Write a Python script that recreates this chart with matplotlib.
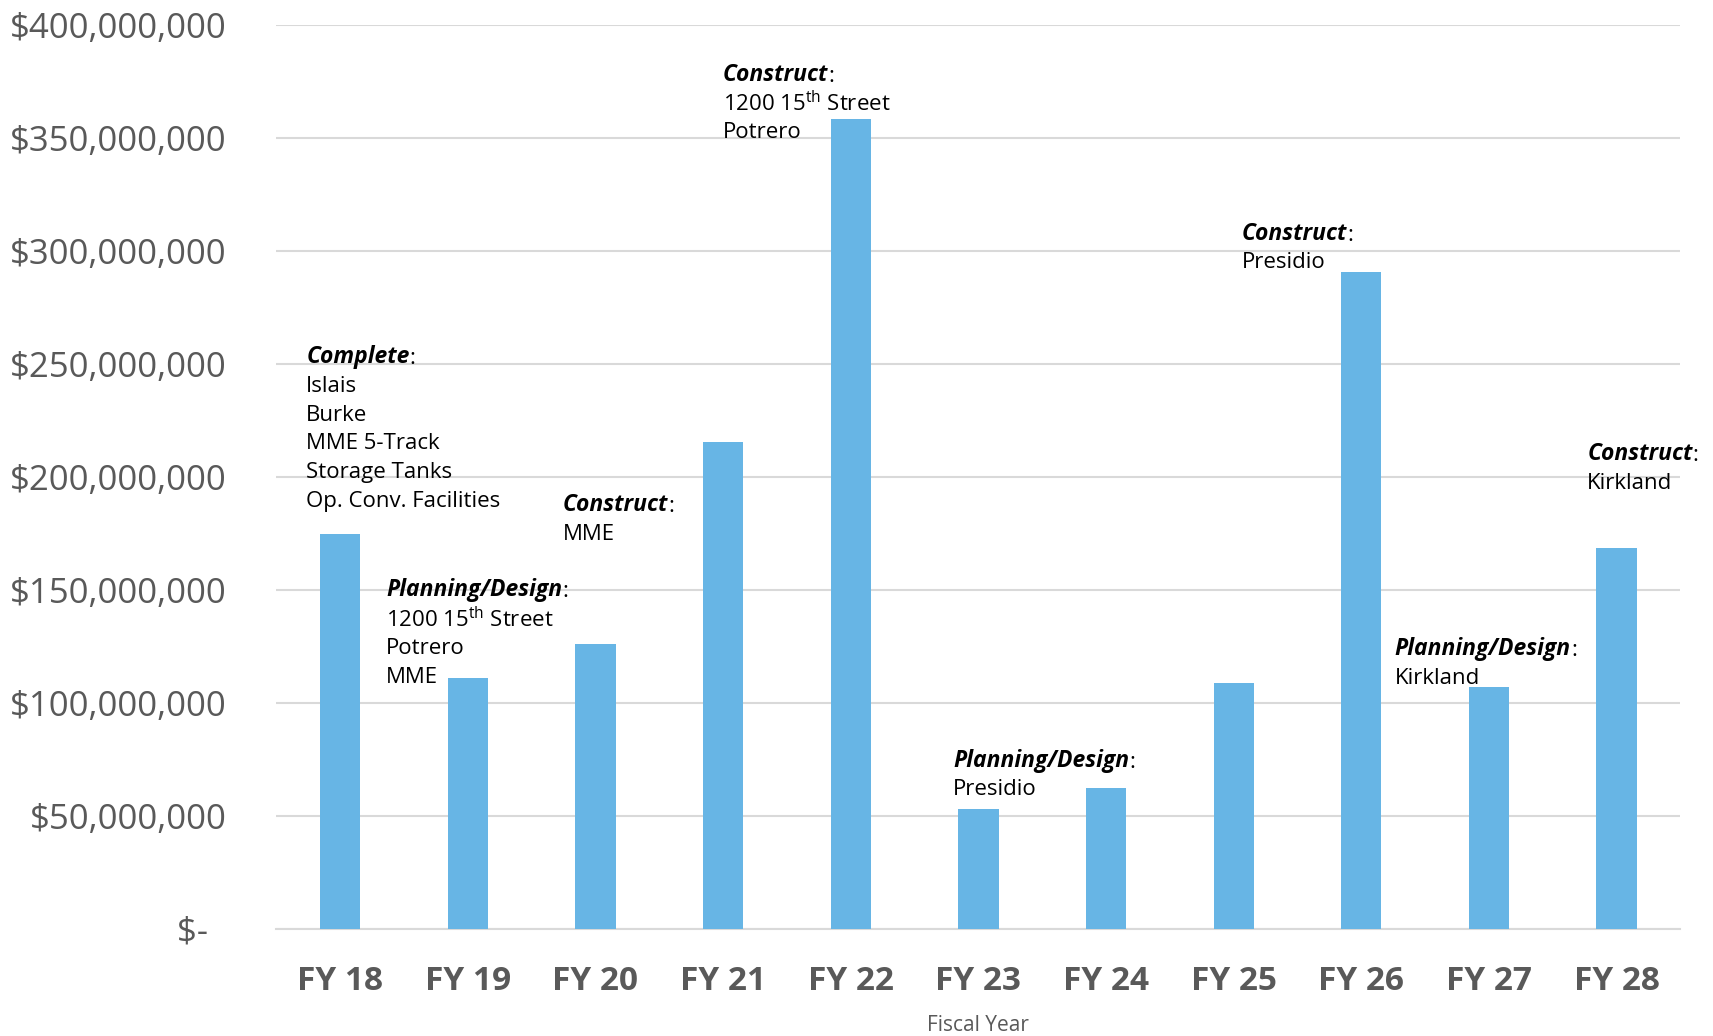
import matplotlib
matplotlib.use("Agg")
import matplotlib.pyplot as plt
from matplotlib.ticker import FuncFormatter, MultipleLocator

plt.rcParams["font.family"] = ["Open Sans", "DejaVu Sans"]
plt.rcParams["mathtext.fontset"] = "custom"
plt.rcParams["mathtext.rm"] = "Open Sans"

years = ["FY 18", "FY 19", "FY 20", "FY 21", "FY 22", "FY 23",
         "FY 24", "FY 25", "FY 26", "FY 27", "FY 28"]
spend = [174.8e6, 111.0e6, 126.0e6, 215.5e6, 358.4e6, 53.1e6,
         62.4e6, 108.8e6, 290.6e6, 107.0e6, 168.6e6]

# (x in category units, y of header, header word, following lines)
notes = [
    (-0.265, 253e6, "Complete",
     ["Islais", "Burke", "MME 5-Track", "Storage Tanks", "Op. Conv. Facilities"]),
    (0.36, 149.8e6, "Planning/Design",
     [r"1200 15$^{\mathrm{th}}$ Street", "Potrero", "MME"]),
    (1.746, 187.4e6, "Construct", ["MME"]),
    (2.996, 377.8e6, "Construct",
     [r"1200 15$^{\mathrm{th}}$ Street", "Potrero"]),
    (4.803, 74.4e6, "Planning/Design", ["Presidio"]),
    (7.063, 307.7e6, "Construct", ["Presidio"]),
    (8.262, 123.7e6, "Planning/Design", ["Kirkland"]),
    (9.769, 210.1e6, "Construct", ["Kirkland"]),
]

BAR = "#67B5E5"
GRID = "#D9D9D9"
TICK = "#595959"


def money(v, _pos):
    if v == 0:
        return "$-  "
    return f"${v:,.0f}"


def main() -> None:
    fig = plt.figure(figsize=(17.13, 10.36), dpi=100)
    ax = fig.add_axes([0.1613, 0.1033, 0.8197, 0.8726])

    x = list(range(len(years)))
    ax.bar(x, spend, width=0.316, color=BAR, zorder=3)

    ax.set_xlim(-0.5, len(years) - 0.5)
    ax.set_ylim(0, 400e6)
    ax.yaxis.set_major_locator(MultipleLocator(50e6))
    ax.yaxis.set_major_formatter(FuncFormatter(money))
    ax.grid(axis="y", color=GRID, linewidth=1.5, zorder=0)
    ax.set_axisbelow(True)
    for side in ("top", "right", "left"):
        ax.spines[side].set_visible(False)
    ax.spines["bottom"].set_color(GRID)
    ax.spines["bottom"].set_linewidth(1.5)

    ax.set_xticks(x)
    ax.set_xticklabels(years, fontsize=24, fontweight="bold", color=TICK)
    ax.tick_params(axis="x", length=0, pad=26)
    ax.tick_params(axis="y", length=0, pad=36, labelsize=25, labelcolor=TICK)
    ax.set_xlabel("Fiscal Year", fontsize=15, color=TICK, labelpad=12)

    line_h = 12.8e6
    for nx, ny, head, lines in notes:
        t = ax.text(nx, ny, head, fontsize=16.5, fontweight="bold", style="italic",
                    ha="left", va="center", color="black", zorder=5)
        ax.annotate(":", xy=(1, 0), xycoords=t, ha="left", va="bottom",
                    fontsize=16, color="black", zorder=5)
        for i, line in enumerate(lines):
            ax.text(nx, ny - line_h * (i + 1), line, fontsize=16,
                    ha="left", va="center", color="black", zorder=5)

    fig.savefig("out.png", dpi=100)
    plt.close(fig)


if __name__ == "__main__":
    main()
